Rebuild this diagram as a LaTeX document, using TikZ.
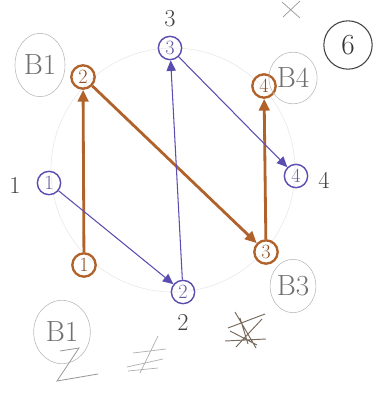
\documentclass[tikz,border=0pt]{standalone}
\usepackage{xcolor}
\usepackage{tikz}
\usetikzlibrary{arrows.meta,shapes.geometric}
\definecolor{inkblue}{HTML}{5A4DB0}
\definecolor{inkbrown}{HTML}{B0622A}
\definecolor{pencil}{HTML}{8C8C8C}
\definecolor{scrawl}{HTML}{76685A}

\begin{document}
\begin{tikzpicture}[
    x=0.03cm, y=-0.03cm,
    bluept/.style={circle, draw=inkblue, line width=1.2pt, minimum size=0.7cm, inner sep=0pt, font=\LARGE, text=inkblue!70!gray},
    brownpt/.style={circle, draw=inkbrown, line width=2pt, minimum size=0.7cm, inner sep=0pt, font=\LARGE, text=inkbrown!80!black},
    bluearc/.style={draw=inkblue, line width=0.9pt, -{Triangle[length=9pt,width=8pt]}},
    brownarc/.style={draw=inkbrown, line width=2.4pt, -{Triangle[length=10pt,width=9pt]}},
    tag/.style={ellipse, draw=pencil!60, line width=0.5pt, inner sep=0pt, font=\Huge, text=pencil!80!black},
    numlbl/.style={font=\huge, text=black!75},
]
\useasboundingbox (0,0) rectangle (378,394);

% faint guide circle
\draw[pencil!20, line width=0.5pt] (173,170) circle (3.66cm);

% blue points
\foreach \name/\num/\x/\y in {b1/1/49/183, b2/2/183/292, b3/3/170/48, b4/4/296/176}{
  \node[bluept] (\name) at (\x,\y) {\num};
}

% brown points
\foreach \name/\num/\x/\y in {r1/1/84/265, r2/2/83/77, r3/3/266/252, r4/4/264/86}{
  \node[brownpt] (\name) at (\x,\y) {\num};
}

% point labels
\node[numlbl] (l1) at (15,185) {1};
\node[numlbl] (l2) at (183,322) {2};
\node[numlbl] (l3) at (170,19) {3};
\node[numlbl] (l4) at (324,180) {4};

% tags
\node[tag, minimum width=1.5cm, minimum height=1.9cm] (t1) at (40,65) {B1};
\node[tag, minimum width=1.45cm, minimum height=1.55cm] (t4) at (293,78) {B4};
\node[tag, minimum width=1.2cm, minimum height=1.6cm] (t3) at (293,286) {B3};
\node[tag, minimum width=1.7cm, minimum height=1.9cm] (t1b) at (62,332) {B1};
\node[circle, draw=black!75, line width=0.9pt, minimum size=1.45cm, inner sep=0pt, font=\Huge, text=black!80] (six) at (348,45) {6};

% brown path
\draw[brownarc] (r1) -- (r2);
\draw[brownarc] (r2) -- (r3);
\draw[brownarc] (r3) -- (r4);

% blue path
\draw[bluearc] (b1) -- (b2);
\draw[bluearc] (b2) -- (b3);
\draw[bluearc] (b3) -- (b4);

% scribbles
\draw[pencil!90, line width=0.6pt] (282,2) -- (300,18) (300,1) -- (283,17);
\draw[pencil!90, line width=0.7pt] (60,351) -- (79,348) -- (57,381) -- (98,374);
\draw[pencil!70, line width=0.6pt] (133,353) -- (166,349) (127,367) -- (163,359) (128,371) -- (158,368) (158,336) -- (140,373);
\draw[scrawl, line width=0.8pt] (235,312) -- (256,348) (228,328) -- (265,314) (225,341) -- (266,339)
  (236,347) -- (262,319) (230,331) -- (257,345) (240,318) -- (248,344);
\end{tikzpicture}
\end{document}
